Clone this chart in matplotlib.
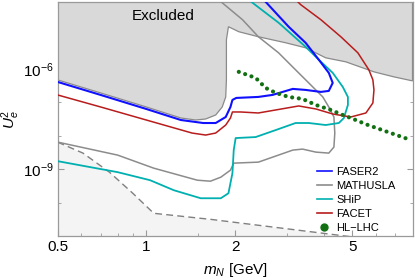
import numpy as np
import matplotlib
matplotlib.use('Agg')
import matplotlib.pyplot as plt
from matplotlib.lines import Line2D
from matplotlib.ticker import FixedLocator, NullFormatter

plt.rcParams['font.family'] = 'Liberation Sans'
plt.rcParams['mathtext.fontset'] = 'custom'
plt.rcParams['mathtext.rm'] = 'Liberation Sans'
plt.rcParams['mathtext.it'] = 'Liberation Sans:italic'

# curves: mass in GeV, log10(U_e^2)
faser2_m = [0.50, 0.70, 1.00, 1.31, 1.56, 1.72, 1.86, 1.93, 1.96, 2.02, 2.40, 2.68, 3.14, 3.47, 3.91, 4.16,
            4.29, 4.16, 3.85, 3.47, 3.04, 2.50]
faser2_logU = [-6.39, -6.78, -7.20, -7.53, -7.62, -7.62, -7.44, -7.14, -6.93, -6.87, -6.84, -6.78, -6.60, -6.63,
               -6.69, -6.66, -6.42, -6.12, -5.73, -5.22, -4.74, -3.93]

mathusla_m = [0.50, 0.80, 1.06, 1.49, 1.65, 1.79, 1.93, 1.98, 2.40, 3.14, 3.39, 3.76, 4.16, 4.33, 4.36, 4.33,
              4.16, 3.97, 3.67, 3.21, 2.81, 2.40, 2.12, 1.79, 1.75]
mathusla_logU = [-8.19, -8.58, -8.97, -9.33, -9.36, -9.24, -9.03, -8.82, -8.79, -8.43, -8.40, -8.49, -8.52,
                 -8.34, -7.92, -7.44, -7.14, -6.84, -6.54, -6.03, -5.52, -5.04, -4.53, -3.99, -3.90]

ship_m = [0.50, 0.80, 1.03, 1.24, 1.53, 1.79, 1.90, 1.96, 1.98, 2.01, 2.35, 2.75, 3.21, 3.56, 4.06, 4.50, 4.68,
          4.83, 4.83, 4.64, 4.29, 3.85, 3.47, 2.81, 2.22]
ship_logU = [-8.76, -9.09, -9.33, -9.63, -9.87, -9.87, -9.72, -9.12, -8.43, -8.07, -8.04, -7.83, -7.62, -7.62,
             -7.68, -7.62, -7.47, -7.08, -6.84, -6.54, -6.12, -5.73, -5.34, -4.62, -3.93]

facet_m = [0.50, 0.70, 1.00, 1.43, 1.59, 1.72, 1.86, 1.93, 1.96, 2.09, 2.40, 3.29, 3.76, 4.29, 4.94, 5.56, 5.87,
           5.92, 5.87, 5.69, 5.22, 4.57, 3.91, 3.34, 3.21]
facet_logU = [-6.78, -7.14, -7.53, -7.92, -7.98, -7.92, -7.68, -7.47, -7.29, -7.29, -7.32, -7.11, -7.20, -7.35,
              -7.44, -7.32, -7.02, -6.63, -6.33, -6.03, -5.52, -5.04, -4.53, -4.08, -3.93]

hllhc_m = [2.06, 2.35, 2.54, 2.75, 3.04, 3.39, 3.76, 4.23, 4.64, 4.94, 5.65, 6.60, 7.90]
hllhc_logU = [-6.09, -6.27, -6.57, -6.72, -6.84, -6.90, -7.08, -7.23, -7.38, -7.47, -7.68, -7.89, -8.13]

bbn_m = [0.50, 0.61, 0.75, 0.90, 1.06, 1.53, 1.65, 4.94]
bbn_logU = [-8.19, -8.52, -9.09, -9.72, -10.32, -10.47, -10.50, -11.02]

excl_m = [0.50, 0.50, 0.70, 1.00, 1.31, 1.47, 1.59, 1.72, 1.81, 1.86, 1.87, 1.87, 1.90, 2.06, 2.40, 2.97, 3.47,
          4.06, 4.75, 5.92, 6.92, 8.0, 8.0]
excl_logU = [-3.9, -6.33, -6.72, -7.14, -7.47, -7.53, -7.50, -7.38, -7.14, -6.84, -6.33, -5.13, -4.74, -4.89,
             -5.04, -5.22, -5.37, -5.67, -5.79, -6.09, -6.24, -6.36, -3.9]

x_major = [0.5, 1, 2, 5]
x_minor = [0.6, 0.7, 0.8, 0.9, 1.5, 3, 4, 6, 7, 8]
y_major = [1e-9, 1e-6]
y_minor = [1e-11, 1e-10, 1e-8, 1e-7, 1e-5, 1e-4]

fig = plt.figure(figsize=(4.15, 2.8), dpi=100)
ax = fig.add_axes([0.1386, 0.157, 0.8554, 0.836])

ax.fill_between(bbn_m, 10.0 ** np.array(bbn_logU), 1e-12, color='#f4f4f4', lw=0, zorder=1)
ax.plot(bbn_m, 10.0 ** np.array(bbn_logU), color='#808080', lw=1.0, ls=(0, (5, 3)), zorder=2)
ax.fill(excl_m, 10.0 ** np.array(excl_logU), facecolor='#d9d9d9', edgecolor='#8a8a8a', lw=0.9, zorder=2)

ax.plot(mathusla_m, 10.0 ** np.array(mathusla_logU), color='#8c8c8c', lw=1.1, zorder=3)
ax.plot(ship_m, 10.0 ** np.array(ship_logU), color='#00b0b0', lw=1.3, zorder=3)
ax.plot(facet_m, 10.0 ** np.array(facet_logU), color='#b81c1c', lw=1.1, zorder=3)
ax.plot(faser2_m, 10.0 ** np.array(faser2_logU), color='#1010ff', lw=1.5, zorder=4)
ax.plot(hllhc_m, 10.0 ** np.array(hllhc_logU), color='#127012', lw=3.0, ls=(0, (0.01, 1.6)),
        dash_capstyle='round', zorder=5)

ax.set_xscale('log')
ax.set_yscale('log')
ax.set_xlim(0.5, 8)
ax.set_ylim(1e-11, 1e-4)

ax.xaxis.set_major_locator(FixedLocator(x_major))
ax.xaxis.set_minor_locator(FixedLocator(x_minor))
ax.set_xticklabels(['0.5', '1', '2', '5'])
ax.xaxis.set_minor_formatter(NullFormatter())
ax.yaxis.set_major_locator(FixedLocator(y_major))
ax.yaxis.set_minor_locator(FixedLocator(y_minor))
ax.set_yticklabels(['$10^{-9}$', '$10^{-6}$'])
ax.yaxis.set_minor_formatter(NullFormatter())
ax.tick_params(which='both', direction='in', top=True, right=True, color='#9a9a9a', labelsize=11, pad=3)
ax.tick_params(which='major', length=4, width=0.8)
ax.tick_params(which='minor', length=2.5, width=0.6)
for s in ax.spines.values():
    s.set_color('#9a9a9a')
    s.set_linewidth(0.9)

ax.set_xlabel('$m_N$ [GeV]', fontsize=11, labelpad=5)
ax.set_ylabel('$U_e^2$', fontsize=11)
ax.yaxis.set_label_coords(-0.1, 0.5)
ax.text(0.297, 0.94, 'Excluded', transform=ax.transAxes, ha='center', va='center', fontsize=11, zorder=6)

handles = [Line2D([], [], color='#1010ff', lw=1.2),
           Line2D([], [], color='#8c8c8c', lw=1.2),
           Line2D([], [], color='#00b0b0', lw=1.2),
           Line2D([], [], color='#b81c1c', lw=1.2),
           Line2D([], [], color='#127012', ls='none', marker='o', ms=5)]
labels = ['FASER2', 'MATHUSLA', 'SHiP', 'FACET', 'HL\u2212LHC']
ax.legend(handles, labels, loc='lower left', bbox_to_anchor=(0.725, 0.005), frameon=False, fontsize=8,
          handlelength=1.3, handletextpad=0.4, labelspacing=0.35, borderpad=0.2, borderaxespad=0)

fig.savefig('out.png', dpi=100)
